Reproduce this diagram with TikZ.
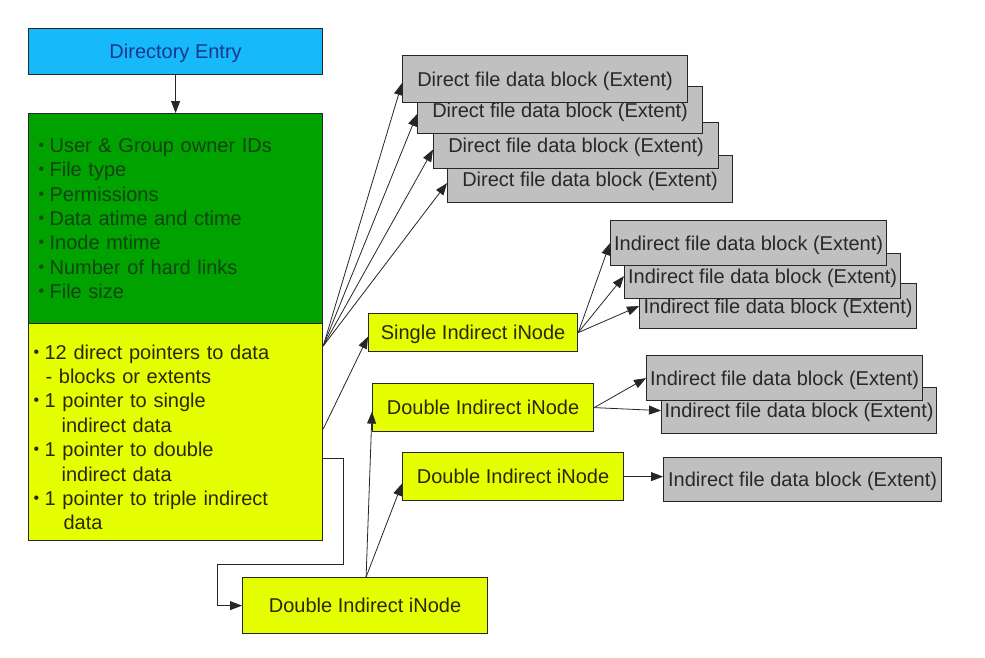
\documentclass[tikz,border=0pt]{standalone}
\usepackage{fontspec}
\setmainfont{Liberation Sans}
\usetikzlibrary{arrows.meta}

\definecolor{dircyan}{RGB}{22,186,250}
\definecolor{dirtext}{RGB}{25,55,140}
\definecolor{attrgreen}{RGB}{0,162,0}
\definecolor{attrtext}{RGB}{18,66,18}
\definecolor{ptryellow}{RGB}{230,255,0}
\definecolor{ptrtext}{RGB}{40,40,8}
\definecolor{blockgray}{RGB}{192,192,192}
\definecolor{blocktext}{RGB}{40,40,40}

\newcommand{\bul}{\makebox[11pt][l]{\raisebox{2pt}{\fontsize{16}{16}\selectfont •}}}

\begin{document}
\begin{tikzpicture}[
    x=1pt,y=-1pt,
    block/.style={
      rectangle,
      draw=black!85,
      line width=1.2pt,
      inner sep=0pt,
      anchor=north west,
      align=center,
      font=\fontsize{20}{24.4}\selectfont
    },
    oneline/.style={block,text depth=0pt},
    inode/.style={oneline,fill=ptryellow,text=ptrtext},
    datablock/.style={oneline,fill=blockgray,text=blocktext},
    link/.style={
      ->,
      >={Triangle[length=12pt,width=9pt]},
      line width=0.8pt,
      draw=black!85
    }]

    \useasboundingbox (0,0) rectangle (985,657);

    % directory entry
    \draw (28,28) node[oneline,fill=dircyan,text=dirtext,
    minimum width=294pt,minimum height=46pt] (dir) {Directory Entry};
    % inode attributes
    \draw (28,113) node[
    block,
    fill=attrgreen,
    text=attrtext,
    align=left,
    inner xsep=10pt,
    text width=274pt,
    minimum height=210pt] (attr) {\bul User \& Group owner IDs\\
      \bul File type\\
      \bul Permissions\\
      \bul Data atime and ctime\\
      \bul Inode mtime\\
      \bul Number of hard links\\
      \bul File size};
    % pointers
    \draw (28,323) node[
    block,
    fill=ptryellow,
    text=ptrtext,
    align=left,
    inner xsep=5pt,
    text width=284pt,
    text height=25pt,
    minimum height=217pt] (ptr) {\bul 12 direct pointers to data\\
      \hspace*{12pt}- blocks or extents\\
      \bul 1 pointer to single\\
      \hspace*{28pt}indirect data\\
      \bul 1 pointer to double\\
      \hspace*{28pt}indirect data\\
      \bul 1 pointer to triple indirect\\
      \hspace*{30pt}data};

    % direct blocks (front one drawn last)
    \draw (447,155) node[datablock,minimum width=285pt,minimum height=47pt] (d4) {Direct file data block (Extent)};
    \draw (433,122) node[datablock,minimum width=285pt,minimum height=46pt] (d3) {Direct file data block (Extent)};
    \draw (417,86) node[datablock,minimum width=285pt,minimum height=47pt] (d2) {Direct file data block (Extent)};
    \draw (402,55) node[datablock,minimum width=285pt,minimum height=47pt] (d1) {Direct file data block (Extent)};

    % single indirect
    \draw (368,313) node[inode,minimum width=209pt,minimum height=38pt] (single) {Single Indirect iNode};
    \draw (639,283) node[datablock,minimum width=277pt,minimum height=45pt] (i3) {Indirect file data block (Extent)};
    \draw (624,253) node[datablock,minimum width=276pt,minimum height=45pt] (i2) {Indirect file data block (Extent)};
    \draw (610,220) node[datablock,minimum width=276pt,minimum height=45pt] (i1) {Indirect file data block (Extent)};

    % double indirect
    \draw (372,383) node[inode,minimum width=221pt,minimum height=48pt] (dbla) {Double Indirect iNode};
    \draw (661,387) node[datablock,minimum width=275pt,minimum height=46pt] (i5) {Indirect file data block (Extent)};
    \draw (646,355) node[datablock,minimum width=276pt,minimum height=45pt] (i4) {Indirect file data block (Extent)};
    \draw (402,452) node[inode,minimum width=221pt,minimum height=48pt] (dblb) {Double Indirect iNode};
    \draw (663,457) node[datablock,minimum width=278pt,minimum height=44pt] (i6) {Indirect file data block (Extent)};
    \draw (242,577) node[inode,minimum width=245pt,minimum height=56pt] (dblc) {Double Indirect iNode};

    % lines
    \draw[link] (dir) -- (attr);
    \coordinate (ptrtop) at ([yshift=-23pt]ptr.north east);
    \foreach \d in {d1,d2,d3,d4}
      \draw[link] (ptrtop) -- ([yshift=-4pt]\d.west);
    \draw[link] ([yshift=-106pt]ptr.north east) -- ([yshift=-4pt]single.west);
    \foreach \i in {i1,i2,i3}
      \draw[link] (single.east) -- (\i.west);
    \draw[link] (dbla.east) -- (i4.west);
    \draw[link] (dbla.east) -- (i5.west);
    \draw[link] (dblb.east) -- (dblb.east -| i6.west);
    \coordinate (bend) at (217,564);
    \draw[link] ([yshift=-135pt]ptr.north east) -- ++(20,0) |- (bend) |- (dblc.west);
    \draw[link] ([xshift=1pt]dblc.north) -- ([yshift=-4pt]dbla.west);
    \draw[link] ([xshift=1pt]dblc.north) -- ([yshift=-7pt]dblb.west);
  \end{tikzpicture}
\end{document}
